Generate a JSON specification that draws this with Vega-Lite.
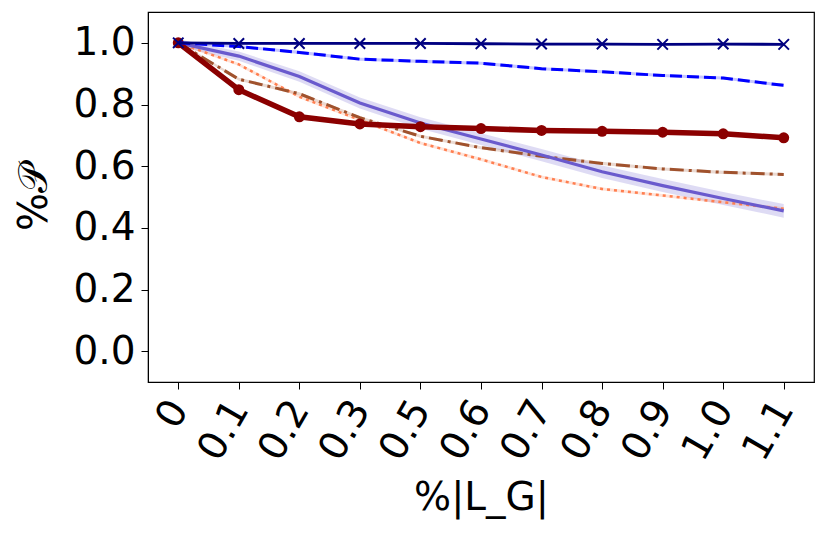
{
  "$schema": "https://vega.github.io/schema/vega-lite/v6.json",
  "width": 666,
  "height": 370,
  "autosize": {"type": "none"},
  "padding": {"left": 148, "top": 12, "right": 17, "bottom": 164},
  "background": "white",
  "datasets": {
    "runs": [
      {"x": "0", "s": "A", "y": 1.0, "lo": 0.996, "hi": 1.003},
      {"x": "0.1", "s": "A", "y": 0.998, "lo": 0.994, "hi": 1.002},
      {"x": "0.2", "s": "A", "y": 0.998, "lo": 0.994, "hi": 1.002},
      {"x": "0.3", "s": "A", "y": 0.998, "lo": 0.994, "hi": 1.002},
      {"x": "0.5", "s": "A", "y": 0.998, "lo": 0.994, "hi": 1.002},
      {"x": "0.6", "s": "A", "y": 0.997, "lo": 0.993, "hi": 1.001},
      {"x": "0.7", "s": "A", "y": 0.996, "lo": 0.992, "hi": 1.0},
      {"x": "0.8", "s": "A", "y": 0.996, "lo": 0.992, "hi": 1.0},
      {"x": "0.9", "s": "A", "y": 0.995, "lo": 0.991, "hi": 0.999},
      {"x": "1.0", "s": "A", "y": 0.996, "lo": 0.992, "hi": 1.0},
      {"x": "1.1", "s": "A", "y": 0.995, "lo": 0.991, "hi": 0.999},
      {"x": "0", "s": "B", "y": 1.0, "lo": 0.996, "hi": 1.003},
      {"x": "0.1", "s": "B", "y": 0.988, "lo": 0.983, "hi": 0.993},
      {"x": "0.2", "s": "B", "y": 0.969, "lo": 0.964, "hi": 0.974},
      {"x": "0.3", "s": "B", "y": 0.947, "lo": 0.942, "hi": 0.952},
      {"x": "0.5", "s": "B", "y": 0.94, "lo": 0.935, "hi": 0.945},
      {"x": "0.6", "s": "B", "y": 0.934, "lo": 0.929, "hi": 0.939},
      {"x": "0.7", "s": "B", "y": 0.916, "lo": 0.911, "hi": 0.921},
      {"x": "0.8", "s": "B", "y": 0.906, "lo": 0.901, "hi": 0.911},
      {"x": "0.9", "s": "B", "y": 0.894, "lo": 0.889, "hi": 0.899},
      {"x": "1.0", "s": "B", "y": 0.886, "lo": 0.881, "hi": 0.891},
      {"x": "1.1", "s": "B", "y": 0.862, "lo": 0.857, "hi": 0.867},
      {"x": "0", "s": "C", "y": 1.0, "lo": 0.988, "hi": 1.012},
      {"x": "0.1", "s": "C", "y": 0.957, "lo": 0.942, "hi": 0.972},
      {"x": "0.2", "s": "C", "y": 0.891, "lo": 0.874, "hi": 0.908},
      {"x": "0.3", "s": "C", "y": 0.805, "lo": 0.787, "hi": 0.823},
      {"x": "0.5", "s": "C", "y": 0.74, "lo": 0.721, "hi": 0.759},
      {"x": "0.6", "s": "C", "y": 0.688, "lo": 0.669, "hi": 0.707},
      {"x": "0.7", "s": "C", "y": 0.636, "lo": 0.616, "hi": 0.656},
      {"x": "0.8", "s": "C", "y": 0.582, "lo": 0.562, "hi": 0.602},
      {"x": "0.9", "s": "C", "y": 0.537, "lo": 0.516, "hi": 0.558},
      {"x": "1.0", "s": "C", "y": 0.495, "lo": 0.474, "hi": 0.516},
      {"x": "1.1", "s": "C", "y": 0.455, "lo": 0.433, "hi": 0.477},
      {"x": "0", "s": "D", "y": 1.0, "lo": 0.996, "hi": 1.004},
      {"x": "0.1", "s": "D", "y": 0.848, "lo": 0.843, "hi": 0.853},
      {"x": "0.2", "s": "D", "y": 0.76, "lo": 0.755, "hi": 0.765},
      {"x": "0.3", "s": "D", "y": 0.737, "lo": 0.732, "hi": 0.742},
      {"x": "0.5", "s": "D", "y": 0.728, "lo": 0.723, "hi": 0.733},
      {"x": "0.6", "s": "D", "y": 0.722, "lo": 0.717, "hi": 0.727},
      {"x": "0.7", "s": "D", "y": 0.716, "lo": 0.711, "hi": 0.721},
      {"x": "0.8", "s": "D", "y": 0.713, "lo": 0.708, "hi": 0.718},
      {"x": "0.9", "s": "D", "y": 0.71, "lo": 0.705, "hi": 0.715},
      {"x": "1.0", "s": "D", "y": 0.705, "lo": 0.7, "hi": 0.71},
      {"x": "1.1", "s": "D", "y": 0.692, "lo": 0.687, "hi": 0.697},
      {"x": "0", "s": "E", "y": 1.0, "lo": 0.996, "hi": 1.004},
      {"x": "0.1", "s": "E", "y": 0.882, "lo": 0.877, "hi": 0.887},
      {"x": "0.2", "s": "E", "y": 0.835, "lo": 0.83, "hi": 0.84},
      {"x": "0.3", "s": "E", "y": 0.757, "lo": 0.752, "hi": 0.762},
      {"x": "0.5", "s": "E", "y": 0.697, "lo": 0.692, "hi": 0.702},
      {"x": "0.6", "s": "E", "y": 0.66, "lo": 0.655, "hi": 0.665},
      {"x": "0.7", "s": "E", "y": 0.632, "lo": 0.627, "hi": 0.637},
      {"x": "0.8", "s": "E", "y": 0.609, "lo": 0.604, "hi": 0.614},
      {"x": "0.9", "s": "E", "y": 0.591, "lo": 0.586, "hi": 0.596},
      {"x": "1.0", "s": "E", "y": 0.58, "lo": 0.575, "hi": 0.585},
      {"x": "1.1", "s": "E", "y": 0.573, "lo": 0.568, "hi": 0.578},
      {"x": "0", "s": "F", "y": 1.0, "lo": 0.996, "hi": 1.004},
      {"x": "0.1", "s": "F", "y": 0.93, "lo": 0.925, "hi": 0.935},
      {"x": "0.2", "s": "F", "y": 0.825, "lo": 0.82, "hi": 0.83},
      {"x": "0.3", "s": "F", "y": 0.75, "lo": 0.745, "hi": 0.755},
      {"x": "0.5", "s": "F", "y": 0.675, "lo": 0.67, "hi": 0.68},
      {"x": "0.6", "s": "F", "y": 0.622, "lo": 0.617, "hi": 0.627},
      {"x": "0.7", "s": "F", "y": 0.565, "lo": 0.56, "hi": 0.57},
      {"x": "0.8", "s": "F", "y": 0.526, "lo": 0.521, "hi": 0.531},
      {"x": "0.9", "s": "F", "y": 0.505, "lo": 0.5, "hi": 0.51},
      {"x": "1.0", "s": "F", "y": 0.483, "lo": 0.478, "hi": 0.488},
      {"x": "1.1", "s": "F", "y": 0.462, "lo": 0.457, "hi": 0.467}
    ]
  },
  "data": {"name": "runs"},
  "encoding": {
    "x": {
      "field": "x",
      "type": "ordinal",
      "sort": ["0", "0.1", "0.2", "0.3", "0.5", "0.6", "0.7", "0.8", "0.9", "1.0", "1.1"],
      "scale": {"type": "point", "padding": 0.5},
      "axis": {
        "title": "%|L_G|",
        "titleFontSize": 39,
        "titleFontWeight": "normal",
        "titlePadding": 12,
        "labelAngle": -60,
        "labelAlign": "right",
        "labelBaseline": "middle",
        "labelFontSize": 39,
        "labelPadding": 14,
        "labelDx": 12,
        "tickSize": 7,
        "grid": false
      }
    },
    "y": {
      "field": "y",
      "type": "quantitative",
      "scale": {"domain": [-0.1, 1.1], "nice": false, "zero": false},
      "axis": {
        "title": "%𝒫",
        "titleFontSize": 40,
        "titleFontWeight": "normal",
        "titlePadding": 18,
        "values": [0, 0.2, 0.4, 0.6, 0.8, 1.0],
        "format": ".1f",
        "labelFontSize": 39,
        "labelPadding": 6,
        "tickSize": 7,
        "grid": false
      }
    }
  },
  "layer": [
    {
      "mark": {"type": "area", "opacity": 0.22},
      "encoding": {
        "y": {"field": "lo", "type": "quantitative"},
        "y2": {"field": "hi"},
        "color": {
          "field": "s",
          "type": "nominal",
          "scale": {"domain": ["A", "B", "C", "D", "E", "F"], "range": ["#000080", "#0000ff", "#6a5acd", "#8b0000", "#a0522d", "#ff7f50"]},
          "legend": null
        }
      }
    },
    {
      "transform": [{"filter": "datum.s == 'F'"}],
      "mark": {"type": "line", "color": "#ff7f50", "strokeWidth": 2.5, "strokeDash": [3, 4]},
      "encoding": {}
    },
    {
      "transform": [{"filter": "datum.s == 'E'"}],
      "mark": {"type": "line", "color": "#a0522d", "strokeWidth": 3, "strokeDash": [14, 5, 3, 5]},
      "encoding": {}
    },
    {
      "transform": [{"filter": "datum.s == 'C'"}],
      "mark": {"type": "line", "color": "#6a5acd", "strokeWidth": 3.2}
    },
    {
      "transform": [{"filter": "datum.s == 'D'"}],
      "mark": {"type": "line", "color": "#8b0000", "strokeWidth": 5.5, "point": {"filled": true, "size": 120, "color": "#8b0000"}}
    },
    {
      "transform": [{"filter": "datum.s == 'B'"}],
      "mark": {"type": "line", "color": "#0000ff", "strokeWidth": 3, "strokeDash": [12, 5]}
    },
    {
      "transform": [{"filter": "datum.s == 'A'"}],
      "mark": {"type": "line", "color": "#000080", "strokeWidth": 2.8}
    },
    {
      "transform": [{"filter": "datum.s == 'A'"}],
      "mark": {"type": "point", "shape": "M-1,-1L1,1M-1,1L1,-1", "filled": false, "size": 110, "stroke": "#000080", "strokeWidth": 2, "opacity": 1}
    }
  ],
  "config": {
    "font": "DejaVu Sans",
    "view": {"stroke": "black", "strokeWidth": 1.2},
    "axis": {
      "labelColor": "black",
      "titleColor": "black",
      "domainColor": "black",
      "tickColor": "black",
      "labelFont": "DejaVu Sans",
      "titleFont": "DejaVu Sans"
    }
  }
}
